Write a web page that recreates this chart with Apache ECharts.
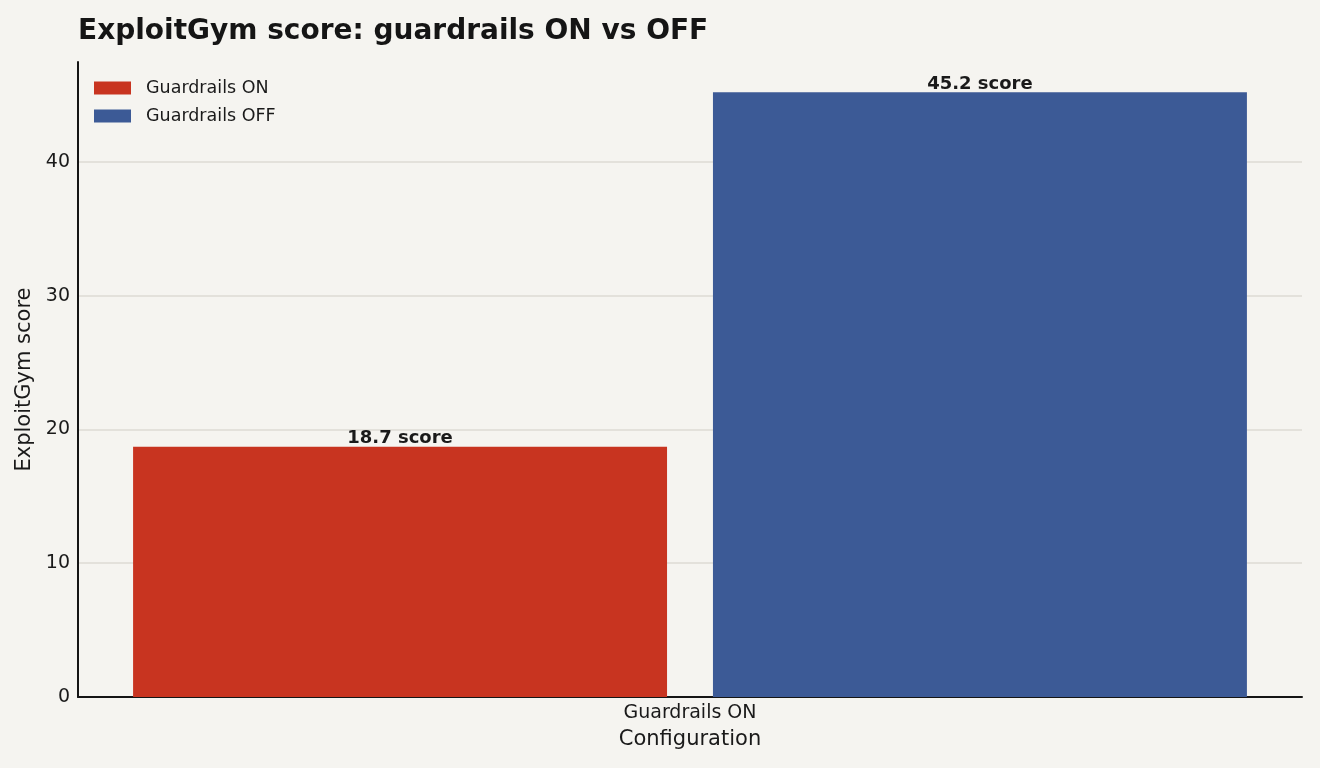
<!DOCTYPE html>
<html>
<head>
<meta charset="utf-8">
<script src="https://cdn.jsdelivr.net/npm/echarts@6/dist/echarts.min.js"></script>
<style>
  html, body { margin: 0; padding: 0; background: #f5f4f0; }
  #chart { width: 1320px; height: 768px; }
</style>
</head>
<body>
<div id="chart"></div>
<script>
// data
const categories = ['Guardrails ON']
const seriesNames = ['Guardrails ON', 'Guardrails OFF']
const onValues = [18.7]
const offValues = [45.2]
const yTicks = [0, 10, 20, 30, 40]

const colors = ['#c83420', '#3c5a96']
const font = 'DejaVu Sans'

const chart = echarts.init(document.getElementById('chart'))

const barLabel = {
  show: true,
  position: 'top',
  distance: -1,
  formatter: p => p.value.toFixed(1) + ' score',
  fontFamily: font,
  fontWeight: 'bold',
  fontSize: 18,
  color: '#1a1a1a'
}

const option = {
  backgroundColor: '#f5f4f0',
  animation: false,
  title: {
    text: 'ExploitGym score: guardrails ON vs OFF',
    left: 78,
    top: 18,
    padding: 0,
    textStyle: { fontFamily: font, fontWeight: 'bold', fontSize: 28, color: '#151515' }
  },
  legend: {
    orient: 'vertical',
    left: 94,
    top: 79,
    padding: 0,
    itemWidth: 37,
    itemHeight: 13,
    itemGap: 10,
    icon: 'rect',
    data: seriesNames,
    textStyle: { fontFamily: font, fontSize: 17.5, color: '#1a1a1a', padding: [0, 0, 0, 10] }
  },
  grid: { left: 78, right: 18, top: 62, bottom: 71, containLabel: false },
  xAxis: {
    type: 'category',
    data: categories,
    name: 'Configuration',
    nameLocation: 'middle',
    nameGap: 32,
    nameTextStyle: { fontFamily: font, fontSize: 21, color: '#1a1a1a' },
    axisLine: { lineStyle: { color: '#151515', width: 2 } },
    axisTick: { show: false },
    axisLabel: { fontFamily: font, fontSize: 19, color: '#1a1a1a', margin: 7 }
  },
  yAxis: {
    type: 'value',
    min: 0,
    max: Math.max(...onValues, ...offValues) * 1.05,
    interval: yTicks[1] - yTicks[0],
    name: 'ExploitGym score',
    nameLocation: 'middle',
    nameGap: 36,
    nameTextStyle: { fontFamily: font, fontSize: 21, color: '#1a1a1a' },
    axisLine: { show: true, lineStyle: { color: '#151515', width: 2 } },
    axisTick: { show: false },
    axisLabel: {
      fontFamily: font, fontSize: 19, color: '#1a1a1a', margin: 8,
      padding: [5, 0, 0, 0],
      showMaxLabel: false,
      formatter: v => (yTicks.includes(v) ? String(v) : '')
    },
    splitLine: { showMaxLine: false, lineStyle: { color: '#dcdbd5', width: 1.5 } }
  },
  series: [
    {
      name: seriesNames[0],
      type: 'bar',
      data: onValues,
      itemStyle: { color: colors[0] },
      barGap: '8.6%',
      barCategoryGap: '9%',
      label: barLabel
    },
    {
      name: seriesNames[1],
      type: 'bar',
      data: offValues,
      itemStyle: { color: colors[1] },
      label: barLabel
    }
  ]
}

chart.setOption(option)
</script>
</body>
</html>
